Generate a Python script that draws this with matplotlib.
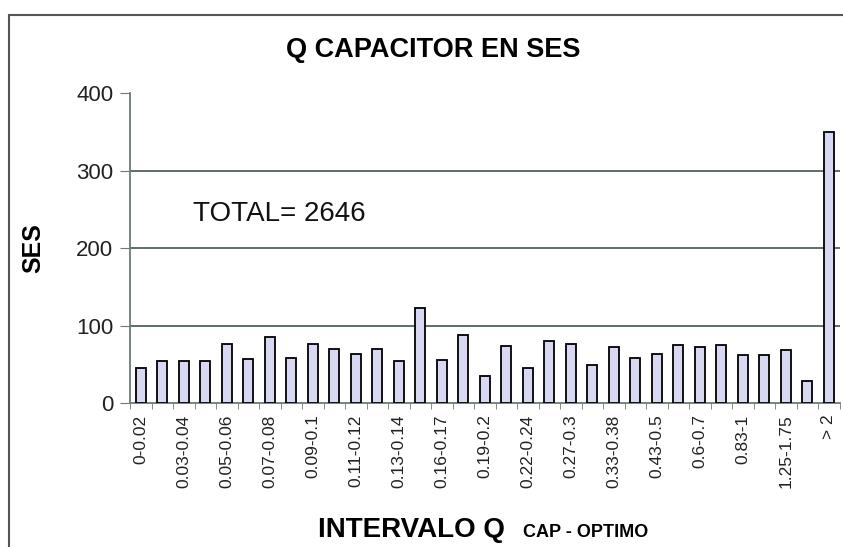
import matplotlib
matplotlib.use("Agg")
import matplotlib.pyplot as plt
from matplotlib.patches import Rectangle
import numpy as np

plt.rcParams['font.family'] = ['Liberation Sans', 'DejaVu Sans']

categories = ["0-0.02", "", "0.03-0.04", "", "0.05-0.06", "", "0.07-0.08", "",
              "0.09-0.1", "", "0.11-0.12", "", "0.13-0.14", "", "0.16-0.17", "",
              "0.19-0.2", "", "0.22-0.24", "", "0.27-0.3", "", "0.33-0.38", "",
              "0.43-0.5", "", "0.6-0.7", "", "0.83-1", "", "1.25-1.75", "", "> 2"]
values = [45, 54, 54, 54, 76, 57, 86, 59, 77, 70, 64, 70, 55, 123, 56, 88,
          35, 74, 46, 80, 77, 49, 72, 59, 63, 75, 73, 75, 62, 62, 69, 29, 350]
yticks = [0, 100, 200, 300, 400]

W, H = 843, 547
fig = plt.figure(figsize=(W / 100, H / 100), dpi=100)
ax = fig.add_axes([130 / W, 1 - 403.3 / H, 709.5 / W, 310.3 / H])

x = np.arange(len(values))
ax.bar(x, values, width=0.45, color='#d8d8f2', edgecolor='black', linewidth=1.3, zorder=3)

ax.set_xlim(-0.5, len(values) - 0.5)
ax.set_ylim(0, 400)
ax.set_yticks(yticks)
ax.set_yticklabels([str(v) for v in yticks], fontsize=16, color='#222222')
for v in yticks[1:-1]:
    ax.axhline(v, color='#50625c', linewidth=1.3, zorder=1)

labeled = [i for i, c in enumerate(categories) if c]
ax.set_xticks(labeled)
ax.set_xticklabels([categories[i] for i in labeled], rotation=90, fontsize=12.5,
                   va='top', ha='center', color='#222222')
ax.set_xticks(np.arange(-0.5, len(values), 1.0), minor=True)
ax.tick_params(axis='x', which='major', length=0, pad=8)
ax.tick_params(axis='x', which='minor', length=4, color='#6e7a76', direction='out')
ax.tick_params(axis='y', length=7, color='#6e7a76', pad=5)

for s in ['top', 'right']:
    ax.spines[s].set_visible(False)
for s in ['left', 'bottom']:
    ax.spines[s].set_color('#6e7a76')
    ax.spines[s].set_linewidth(1.3)

ax.text((193 - 130) / 709.5, (403.3 - 214) / 310.3, "TOTAL= 2646", transform=ax.transAxes,
        fontsize=20, ha='left', va='center', color='#111111')

fig.text(433 / W, 1 - 50 / H, "Q CAPACITOR EN SES", fontsize=19.5, fontweight='bold',
         ha='center', va='center')
fig.text(33 / W, 1 - 248 / H, "SES", fontsize=18, fontweight='bold', rotation=90,
         ha='center', va='center')
fig.text(318 / W, 1 - 537 / H, "INTERVALO Q", fontsize=20, fontweight='bold',
         ha='left', va='baseline')
fig.text(523 / W, 1 - 537 / H, "CAP - OPTIMO", fontsize=13, fontweight='bold',
         ha='left', va='baseline')

fig.patches.append(Rectangle((9 / W, -0.1), 1.2, 1.1 - 15 / H + 0.0, transform=fig.transFigure,
                             fill=False, edgecolor='#555555', linewidth=1.5))

fig.savefig("out.png", dpi=100)
